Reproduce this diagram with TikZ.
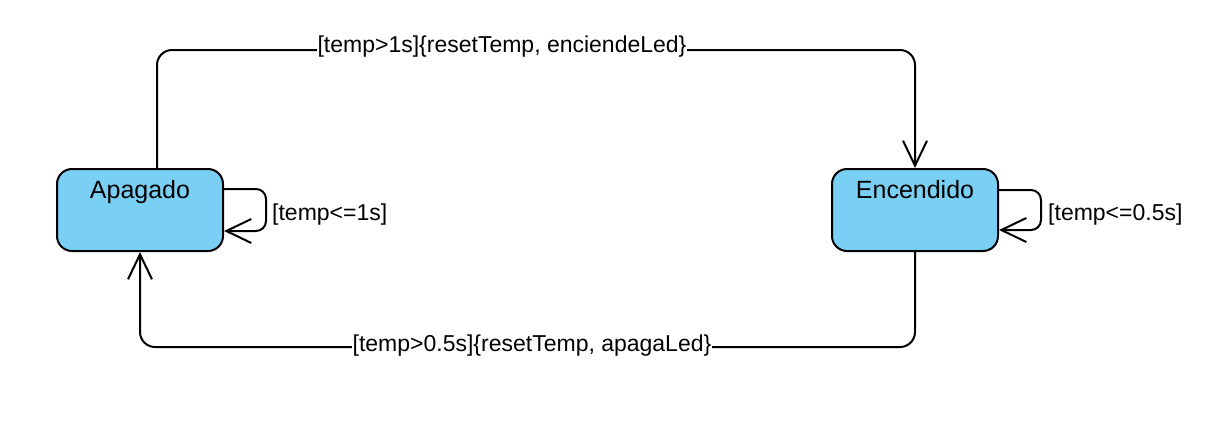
\documentclass[tikz,border=0pt]{standalone}
\usepackage{fontspec}
\setmainfont{Liberation Sans}
\usetikzlibrary{arrows.meta}
\definecolor{stateblue}{RGB}{122,207,245}
\begin{document}
\begin{tikzpicture}[x=1pt,y=-1pt,
  statebox/.style={draw=black, line width=2pt, fill=stateblue, rounded corners=15pt,
    minimum width=166pt, minimum height=82pt, inner sep=0pt},
  statetext/.style={anchor=base, inner sep=0pt, font=\fontsize{25}{30}\selectfont},
  conn/.style={draw=black, line width=2pt, rounded corners=15pt,
    -{Straight Barb[length=25pt,width=24pt,line width=2pt]}},
  loopconn/.style={conn, rounded corners=10pt},
  edgelabel/.style={fill=white, inner sep=1pt, font=\fontsize{23}{27}\selectfont},
  looplabel/.style={anchor=base west, inner sep=0pt, font=\fontsize{23}{27}\selectfont}]
\useasboundingbox (0,0) rectangle (1222,424);
\node[statebox] (apagado) at (140,210) {};
\node[statebox] (encendido) at (915,210) {};
\node[statetext] (apagadoT) at (140,198) {Apagado};
\node[statetext] (encendidoT) at (915,198) {Encendido};
% top transition
\draw[conn] ([xshift=17pt]apagado.north) -- ++(0,-118) -| (encendido.north);
\node[edgelabel, anchor=base] (lblTop) at (502,52) {[temp>1s]\{resetTemp, enciendeLed\}};
% bottom transition
\draw[conn] (encendido.south) -- ++(0,95) -| (apagado.south);
\node[edgelabel] (lblBot) at (532,346) {[temp>0.5s]\{resetTemp, apagaLed\}};
% self loops
\draw[loopconn] ([yshift=21pt]apagado.east) -- ++(42,0) -- ++(0,42) -- ([yshift=-21pt]apagado.east);
\node[looplabel] (lblA) at (272,220) {[temp<=1s]};
\draw[loopconn] ([yshift=20pt]encendido.east) -- ++(42,0) -- ++(0,40) -- ([yshift=-20pt]encendido.east);
\node[looplabel] (lblE) at (1048,220) {[temp<=0.5s]};
\end{tikzpicture}
\end{document}
